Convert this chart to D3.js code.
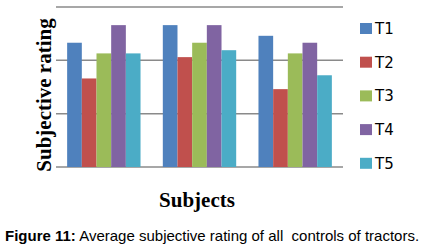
<!DOCTYPE html>
<html>
<head>
<meta charset="utf-8">
<script src="https://d3js.org/d3.v7.min.js"></script>
<style>
  body { margin: 0; background: #fff; }
  svg { display: block; }
</style>
</head>
<body>
<svg width="431" height="246"></svg>
<script>
    var subjects = ["S1", "S2", "S3"];
    var series = ["T1", "T2", "T3", "T4", "T5"];
    var colors = ["#4F81BD", "#C0504D", "#9BBB59", "#8064A2", "#4BACC6"];
    // values per series, one per subject
    var T1 = [2.33, 2.66, 2.46];
    var T2 = [1.66, 2.06, 1.46];
    var T3 = [2.13, 2.33, 2.13];
    var T4 = [2.66, 2.66, 2.33];
    var T5 = [2.13, 2.19, 1.72];
    var gridTicks = [0, 1, 2, 3];

    var values = [T1, T2, T3, T4, T5];

    var svg = d3.select("svg");

    var x0 = d3.scaleBand()
        .domain(subjects)
        .range([56, 343])
        .paddingInner(0.233)
        .paddingOuter(0.1165);

    var x1 = d3.scaleBand()
        .domain(series)
        .range([0, x0.bandwidth()]);

    var y = d3.scaleLinear()
        .domain([0, 3])
        .range([167, 7]);

    // gridlines
    svg.append("g")
        .selectAll("line")
        .data(gridTicks)
        .enter().append("line")
        .attr("x1", 56)
        .attr("x2", 343)
        .attr("y1", d => y(d))
        .attr("y2", d => y(d))
        .attr("stroke", "#8a8a8a")
        .attr("stroke-width", 1.5);

    var rows = [];
    subjects.forEach((s, i) => {
        series.forEach((t, j) => {
            rows.push({ subject: s, series: t, value: values[j][i], color: colors[j] });
        });
    });

    svg.append("g")
        .selectAll("rect")
        .data(rows)
        .enter().append("rect")
        .attr("x", d => x0(d.subject) + x1(d.series))
        .attr("y", d => y(d.value))
        .attr("width", x1.bandwidth())
        .attr("height", d => y(0) - y(d.value))
        .attr("fill", d => d.color);

    // legend
    var legend = svg.append("g")
        .attr("transform", "translate(360, 23)");

    var item = legend.selectAll("g")
        .data(series)
        .enter().append("g")
        .attr("transform", (d, i) => `translate(0, ${i * 33.7})`);

    item.append("rect")
        .attr("width", 12)
        .attr("height", 11)
        .attr("fill", (d, i) => colors[i]);

    item.append("text")
        .attr("x", 15)
        .attr("y", 11)
        .style("font-family", "DejaVu Sans")
        .style("font-size", "15px")
        .text(d => d);

    // axis titles
    svg.append("text")
        .attr("transform", "translate(51, 95) rotate(-90)")
        .attr("text-anchor", "middle")
        .style("font-family", "Liberation Serif")
        .style("font-weight", "bold")
        .style("font-size", "21px")
        .text("Subjective rating");

    svg.append("text")
        .attr("x", 197)
        .attr("y", 207)
        .attr("text-anchor", "middle")
        .style("font-family", "Liberation Serif")
        .style("font-weight", "bold")
        .style("font-size", "21px")
        .text("Subjects");

    var caption = svg.append("text")
        .attr("x", 5)
        .attr("y", 241)
        .style("font-family", "Liberation Sans")
        .style("font-size", "15px")
        .style("white-space", "pre");
    caption.append("tspan").style("font-weight", "bold").text("Figure 11:");
    caption.append("tspan").text(" Average subjective rating of all  controls of tractors.");
</script>
</body>
</html>
